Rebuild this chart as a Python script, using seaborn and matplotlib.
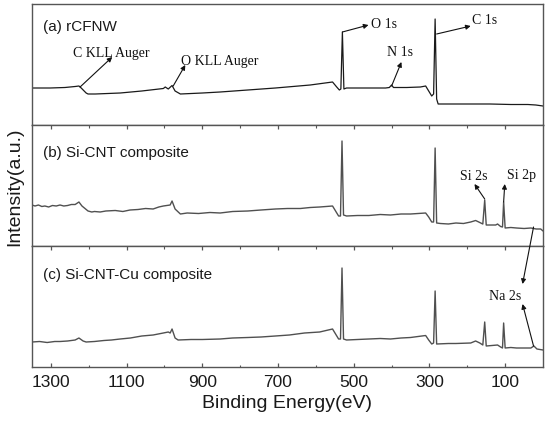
import numpy as np
import pandas as pd
import seaborn as sns
import matplotlib.pyplot as plt

# ---------------- data ----------------
energy_a = [1350, 1302, 1263, 1236, 1226, 1220, 1207, 1202, 1183, 1117, 1060, 1003, 998, 990,
            980, 972, 958, 900, 853, 780, 707, 615, 556, 545, 538, 534, 530, 526, 519, 460,
            416, 406, 400, 395, 360, 324, 310, 302, 294, 289, 285, 281, 277, 230, 191, 140,
            85, 40, 19, 0]
intensity_a = [37, 37, 37.5, 38.5, 39, 37, 32, 31, 31, 32, 34, 36.5, 38, 36,
               39.5, 34, 31, 32, 33, 35, 37, 40, 43, 38, 35, 36, 93, 36, 37, 37,
               37, 37.5, 40, 37.5, 37.5, 38, 39, 34, 29, 31, 106, 26, 21, 21, 21, 21,
               20.5, 20.5, 20, 19]

energy_b = [1350, 1342, 1333, 1324, 1316, 1306, 1296, 1286, 1276, 1266, 1256, 1246, 1236, 1226,
            1218, 1202, 1192, 1185, 1170, 1155, 1130, 1110, 1091, 1070, 1050, 1030, 1015, 1003,
            985, 980, 972, 958, 940, 910, 880, 853, 820, 780, 745, 707, 675, 641, 615, 590,
            556, 548, 540, 535, 531, 527, 519, 490, 460, 430, 403, 375, 350, 330, 310, 302,
            294, 289, 285, 281, 271, 250, 230, 210, 191, 178, 167, 159, 154, 150, 135, 125,
            120, 112, 107, 104, 100, 85, 70, 50, 32, 18, 6, 0]
intensity_b = [41, 40, 41, 39.5, 40, 39, 40.5, 40, 41, 40, 40.5, 41.5, 41.5, 44,
               40, 35, 34, 34.5, 34, 35, 35.5, 34.5, 36, 36.5, 37.5, 37, 39, 40,
               41, 45, 37, 32, 33, 32.5, 33.5, 33, 34.5, 35, 36, 37, 37.5, 37.5, 38.5, 39,
               40, 35, 30, 30, 105, 31, 30, 30.5, 30.5, 31.5, 31, 32, 32, 32.5, 33, 29,
               24, 24, 98, 23, 22.5, 22, 23, 22.5, 24, 25.5, 23.5, 22, 46, 21, 21, 21,
               22, 19.5, 19, 44, 18, 18.5, 18, 17.5, 18, 17, 17, 15]

energy_c = [1350, 1330, 1310, 1290, 1276, 1256, 1236, 1226, 1215, 1207, 1185, 1160, 1140, 1117,
            1090, 1060, 1030, 1003, 990, 985, 980, 972, 964, 930, 900, 853, 820, 780, 745, 707,
            670, 630, 590, 556, 548, 540, 535, 531, 527, 519, 490, 460, 430, 403, 375, 350,
            310, 302, 294, 289, 285, 281, 250, 230, 191, 178, 167, 159, 154, 150, 135, 120,
            112, 107, 104, 100, 85, 70, 50, 32, 24, 16, 0]
intensity_c = [25, 25.5, 24.5, 25.5, 25.5, 26, 27, 29, 26, 25, 25.5, 26.5, 27, 28,
               29, 31, 32, 34, 35, 34, 38, 29, 27, 27.5, 27.5, 28, 29, 29.5, 30, 31,
               32, 34, 35, 38, 33, 28, 28, 99, 28, 27, 27.5, 28, 28.5, 28, 29, 29.5,
               31.5, 27, 23, 24, 76, 23, 23.5, 23.5, 24, 26, 24, 22, 45, 21, 21.5, 22,
               20, 19, 44, 19, 19.5, 19, 19, 19, 21, 18, 17]

x_ticks = [1300, 1100, 900, 700, 500, 300, 100]
x_minor = [1200, 1000, 800, 600, 400, 200]
panel_labels = ["(a) rCFNW", "(b) Si-CNT composite", "(c) Si-CNT-Cu composite"]

# annotations: (text, text_E, text_I, tail_E, tail_I, head_E, head_I)
notes_a = [("C KLL Auger", 1141, 73, 1223, 38, 1138, 68),
           ("O KLL Auger", 853, 65, 977, 39, 945, 60),
           ("O 1s", 421, 101, 530, 93, 461, 100),
           ("N 1s", 379, 73, 400, 39, 374, 63),
           ("C 1s", 154, 106, 281, 91, 191, 99)]
notes_b = [("Si 2s", 183, 71, 154, 47, 181, 62),
           ("Si 2p", 56, 71, 104, 44, 101, 62)]
notes_c = [("Na 2s", 99, 71, 25, 21, 54, 63)]
na_cross = (25, 19, 54, 83)  # tail in panel b, head in panel c

# ---------------- figure ----------------
sns.set_style("ticks")
plt.rcParams['font.family'] = ['Liberation Sans', 'DejaVu Sans']
serif = ['Liberation Serif', 'DejaVu Serif']

fig, axes = plt.subplots(3, 1, figsize=(5.5, 4.31), dpi=100, sharex=True)
fig.subplots_adjust(left=32/550, right=543/550, top=1-5/431, bottom=1-368/431, hspace=0)

series = [(energy_a, intensity_a, "#1a1a1a", 0.9),
          (energy_b, intensity_b, "#505050", 1.0),
          (energy_c, intensity_c, "#505050", 1.0)]
label_y = [0.818, 0.777, 0.769]

spine_col = "#555555"
for k, (ax, (e, i, col, lw), lab) in enumerate(zip(axes, series, panel_labels)):
    df = pd.DataFrame({"E": e, "I": i})
    sns.lineplot(data=df, x="E", y="I", ax=ax, color=col, lw=lw, sort=False, estimator=None)
    ax.set_xlim(1350, 0)
    ax.set_ylim(0, 121)
    ax.set_yticks([])
    ax.set_ylabel("")
    ax.set_xlabel("")
    for s in ax.spines.values():
        s.set_color(spine_col)
        s.set_linewidth(1.0)
    ax.text(0.022, label_y[k], lab, transform=ax.transAxes, fontsize=11,
            va="center", ha="left", color="#1a1a1a")

axes[2].set_xticks(x_ticks)
axes[2].set_xticks(x_minor, minor=True)
axes[2].set_xticklabels([str(t) for t in x_ticks])

axes[0].tick_params(axis="x", which="both", bottom=False, top=False, labelbottom=False)
axes[1].tick_params(axis="x", which="both", bottom=False, top=True, direction="in",
                    labelbottom=False, color=spine_col)
axes[2].tick_params(axis="x", which="both", bottom=True, top=True, direction="in",
                    color=spine_col)
for ax in axes[1:]:
    ax.tick_params(axis="x", which="major", length=3.2, width=0.9)
    ax.tick_params(axis="x", which="minor", length=1.8, width=0.8)
axes[2].tick_params(axis="x", which="major", labelsize=12.5, pad=5, labelcolor="#1a1a1a")

axes[2].set_xlabel("Binding Energy(eV)", fontsize=14, labelpad=4, color="#1a1a1a")
fig.text(15/550, 1-187/431, "Intensity(a.u.)", rotation=90, fontsize=14,
         ha="center", va="center", color="#1a1a1a")

arrow_kw = dict(arrowstyle="-|>", color="#111111", lw=0.8, mutation_scale=7,
                shrinkA=0, shrinkB=0)
for ax, notes in zip(axes, [notes_a, notes_b, notes_c]):
    for txt, tx, ty, ax0, ay0, hx, hy in notes:
        ax.text(tx, ty, txt, family=serif, fontsize=10, ha="center", va="center", color="#111111")
        ax.annotate("", xy=(hx, hy), xytext=(ax0, ay0), arrowprops=arrow_kw,
                    annotation_clip=False)

t_e, t_i, h_e, h_i = na_cross
axes[2].annotate("", xy=(h_e, h_i), xycoords=axes[2].transData,
                 xytext=(t_e, t_i), textcoords=axes[1].transData,
                 arrowprops=arrow_kw, annotation_clip=False)

fig.savefig("out.png", dpi=100)
